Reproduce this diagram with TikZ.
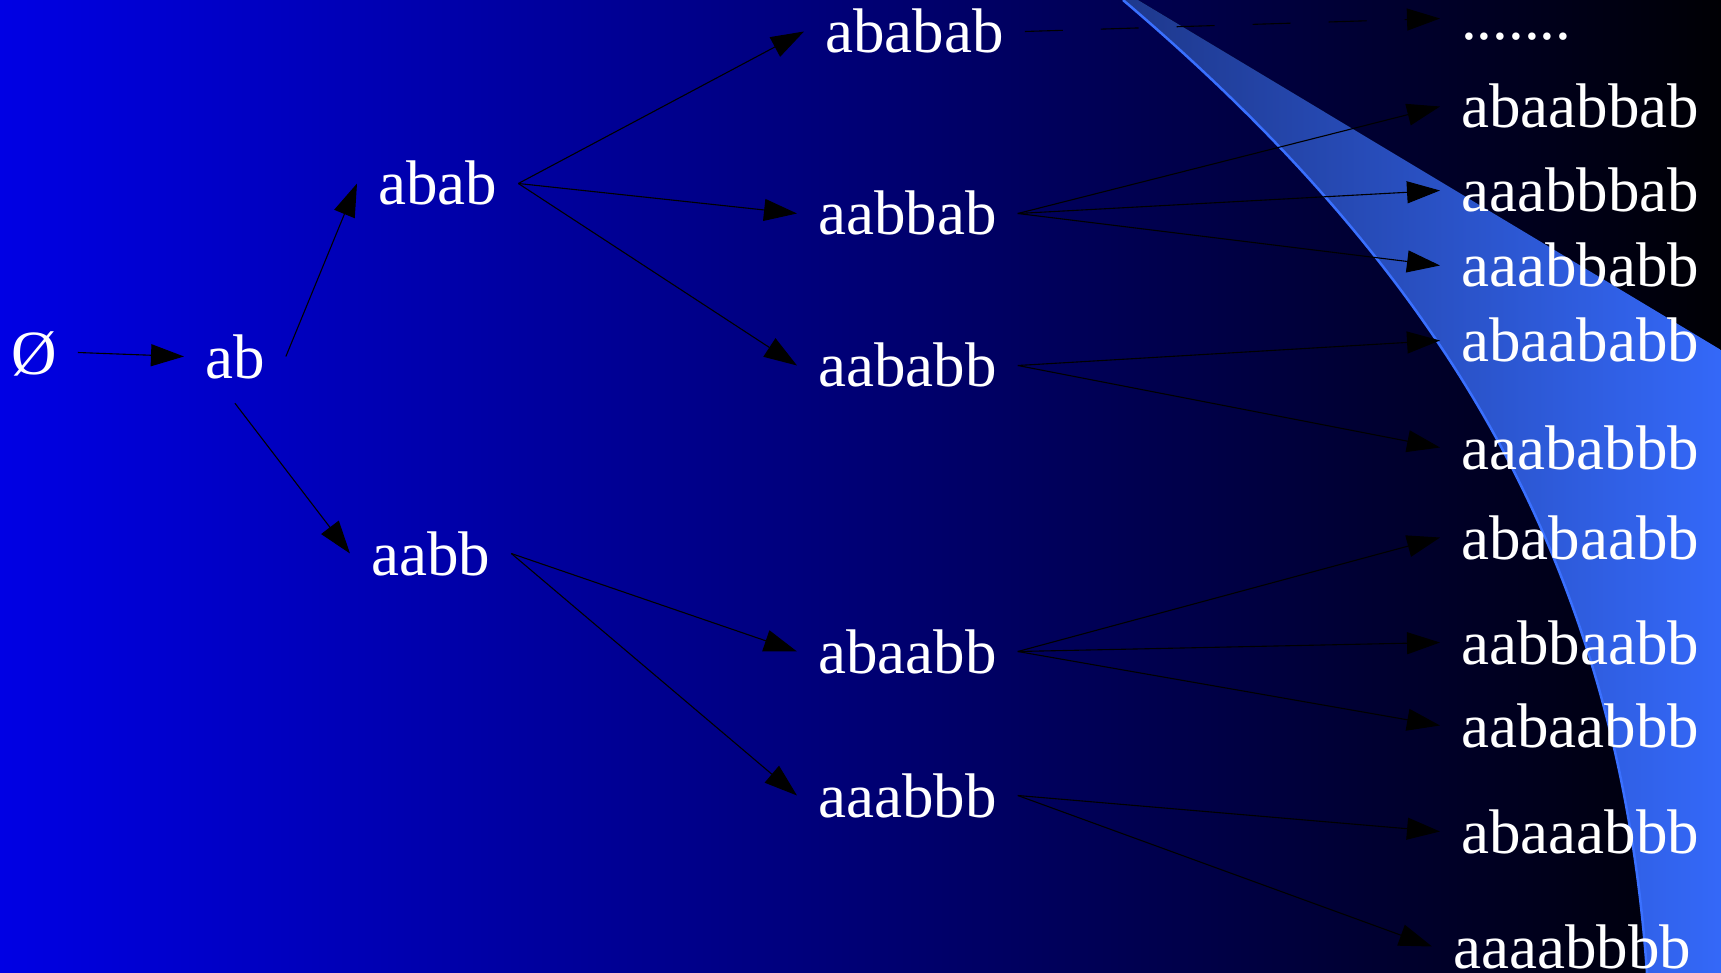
\documentclass[tikz,border=0pt]{standalone}
\usepackage{fontspec}
\setmainfont{Liberation Serif}
\usetikzlibrary{arrows.meta}

\definecolor{bgleft}{RGB}{0,0,228}
\definecolor{bgmid}{RGB}{0,0,132}
\definecolor{bgright}{RGB}{0,0,4}
\definecolor{bandleft}{RGB}{30,56,140}
\definecolor{bandright}{RGB}{52,104,248}
\definecolor{bandedge}{RGB}{58,112,255}

\tikzset{
  word/.style={anchor=base west, text=white, inner xsep=21pt, inner ysep=25pt,
    text height=43pt, text depth=0pt,
    font=\fontsize{63pt}{70pt}\selectfont},
  link/.style={draw=black, line width=1.1pt,
    -{Triangle[length=33pt,width=22pt]}},
  dashlink/.style={link, dash pattern=on 38pt off 38pt}
}

\begin{document}
\begin{tikzpicture}[x=1pt,y=-1pt]
\useasboundingbox (0,0) rectangle (1721,973);

% background gradient
\fill[left color=bgleft, middle color=bgmid, right color=bgright]
  (0,0) rectangle (1721,973);

% lighter swoosh on the right
\coordinate (sw-top) at (1123,0);
\coordinate (sw-bot) at (1647,973);
\fill[left color=bandleft, right color=bandright]
  (sw-top) .. controls (1453,280.5) and (1619,573) .. (sw-bot)
  -- (1721,973) -- (1721,350) -- (1138,0) -- cycle;
\draw[bandedge, line width=2.5pt]
  (sw-top) .. controls (1453,280.5) and (1619,573) .. (sw-bot);

% words
\node[word] (empty) at (-10,374) {Ø};
\node[word] (ab) at (184,378) {ab};
\node[word] (abab) at (357,205) {abab};
\node[word] (aabb) at (350,575) {aabb};

\node[word] (ababab) at (804,53) {ababab};
\node[word] (aabbab) at (797,235) {aabbab};
\node[word] (aababb) at (797,387) {aababb};
\node[word] (abaabb) at (797,673) {abaabb};
\node[word] (aaabbb) at (797,817) {aaabbb};

\node[word] (more) at (1440,40) {.......};
\node[word] (abaabbab) at (1440,128) {abaabbab};
\node[word] (aaabbbab) at (1440,212) {aaabbbab};
\node[word] (aaabbabb) at (1440,287) {aaabbabb};
\node[word] (abaababb) at (1440,362) {abaababb};
\node[word] (aaababbb) at (1440,469) {aaababbb};
\node[word] (ababaabb) at (1440,559) {ababaabb};
\node[word] (aabbaabb) at (1440,664) {aabbaabb};
\node[word] (aabaabbb) at (1440,747) {aabaabbb};
\node[word] (abaaabbb) at (1440,853) {abaaabbb};
\node[word] (aaaabbbb) at (1432,968) {aaaabbbb};

% connectors
\draw[link] (empty.east) -- (ab.west);
\draw[link] (ab.east) -- (abab.west);
\draw[link] (ab.south) -- (aabb.west);

\draw[link] (abab.east) -- (ababab.west);
\draw[link] (abab.east) -- (aabbab.west);
\draw[link] (abab.east) -- (aababb.west);
\draw[link] (aabb.east) -- (abaabb.west);
\draw[link] (aabb.east) -- (aaabbb.west);

\draw[dashlink] (ababab.east) -- (more.west);
\draw[link] (aabbab.east) -- (abaabbab.west);
\draw[link] (aabbab.east) -- (aaabbbab.west);
\draw[link] (aabbab.east) -- (aaabbabb.west);
\draw[link] (aababb.east) -- (abaababb.west);
\draw[link] (aababb.east) -- (aaababbb.west);
\draw[link] (abaabb.east) -- (ababaabb.west);
\draw[link] (abaabb.east) -- (aabbaabb.west);
\draw[link] (abaabb.east) -- (aabaabbb.west);
\draw[link] (aaabbb.east) -- (abaaabbb.west);
\draw[link] (aaabbb.east) -- (aaaabbbb.west);
\end{tikzpicture}
\end{document}
